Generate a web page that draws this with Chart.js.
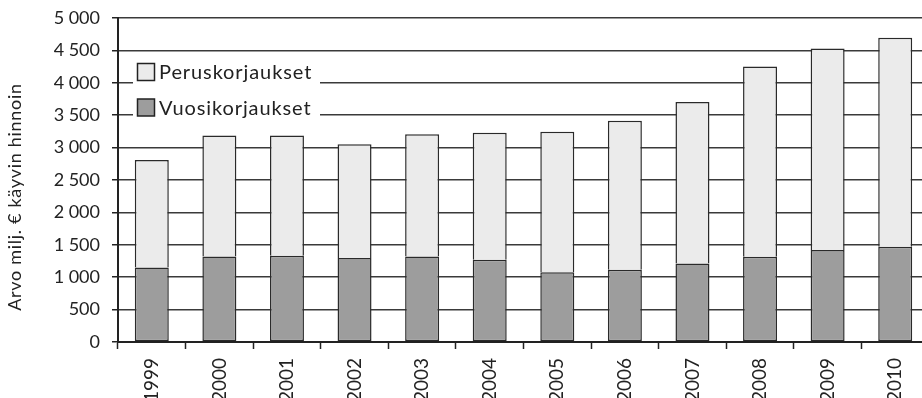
<!DOCTYPE html>
<html lang="fi">
<head>
<meta charset="utf-8">
<title>Korjausrakentaminen 1999–2010</title>
<script src="https://cdn.jsdelivr.net/npm/chart.js@4/dist/chart.umd.min.js"></script>
<style>
  html, body { margin: 0; padding: 0; background: #ffffff; overflow: hidden; }
  #wrap { width: 922px; height: 398px; position: relative; overflow: hidden; }
  #chart { position: absolute; left: 0; top: 0; }
</style>
</head>
<body>
<div id="wrap"><canvas id="chart" width="929" height="398"></canvas></div>
<script>
// Vuodet
const years = ['1999', '2000', '2001', '2002', '2003', '2004', '2005', '2006', '2007', '2008', '2009', '2010'];
// Vuosikorjaukset, milj. €
const vuosikorjaukset = [1150, 1320, 1330, 1295, 1320, 1270, 1075, 1115, 1210, 1315, 1420, 1470];
// Peruskorjaukset, milj. € (pinottu vuosikorjausten päälle)
const peruskorjaukset = [1660, 1865, 1855, 1755, 1885, 1960, 2170, 2300, 2495, 2935, 3110, 3225];
// Pystyakselin asteikko
const yMin = 0;
const yMax = 5000;
const yStep = 500;
const yTitle = 'Arvo milj. € käyvin hinnoin';

const FONT = 'Lato, "Open Sans", sans-serif';
const INK = '#222222';

function thousands(v) {
  return String(v).replace(/\B(?=(\d{3})+(?!\d))/g, ' ');
}

// Selite piirretään kuva-alueen sisään, valkoisen taustan päälle
const insideLegend = {
  id: 'insideLegend',
  afterDraw(chart) {
    const ctx = chart.ctx;
    const area = chart.chartArea;
    const x0 = area.left + 15;
    const items = [chart.data.datasets[1], chart.data.datasets[0]];
    ctx.save();
    ctx.fillStyle = '#ffffff';
    ctx.fillRect(x0, 55, 187, 68);
    items.forEach((ds, i) => {
      const cy = 72 + i * 35.5;
      ctx.fillStyle = ds.backgroundColor;
      ctx.fillRect(x0 + 4.5, cy - 8.5, 17, 17);
      ctx.lineWidth = 1.5;
      ctx.strokeStyle = INK;
      ctx.strokeRect(x0 + 4.5, cy - 8.5, 17, 17);
      ctx.fillStyle = INK;
      ctx.font = '20px ' + FONT;
      ctx.letterSpacing = '0.9px';
      ctx.textBaseline = 'middle';
      ctx.textAlign = 'left';
      ctx.fillText(ds.label, x0 + 26, cy + 1);
    });
    ctx.restore();
  }
};

// Pystyakselin otsikko
const axisTitle = {
  id: 'axisTitle',
  afterDraw(chart) {
    const ctx = chart.ctx;
    ctx.save();
    ctx.translate(15, 197);
    ctx.rotate(-Math.PI / 2);
    ctx.fillStyle = INK;
    ctx.font = '18px ' + FONT;
    ctx.letterSpacing = '0.7px';
    ctx.textAlign = 'center';
    ctx.textBaseline = 'middle';
    ctx.fillText(yTitle, 0, 0);
    ctx.restore();
  }
};

new Chart(document.getElementById('chart'), {
  type: 'bar',
  data: {
    labels: years,
    datasets: [
      {
        label: 'Vuosikorjaukset',
        data: vuosikorjaukset,
        backgroundColor: '#9d9d9d',
        borderColor: '#2a2a2a',
        borderWidth: 1.5,
        borderSkipped: false,
        categoryPercentage: 1,
        barPercentage: 0.503
      },
      {
        label: 'Peruskorjaukset',
        data: peruskorjaukset,
        backgroundColor: '#ebebeb',
        borderColor: '#2a2a2a',
        borderWidth: 1.5,
        borderSkipped: 'start',
        categoryPercentage: 1,
        barPercentage: 0.503
      }
    ]
  },
  options: {
    responsive: false,
    animation: false,
    devicePixelRatio: 1,
    layout: { padding: { top: 18, right: 0, bottom: 0, left: 0 } },
    plugins: {
      legend: { display: false },
      tooltip: { enabled: false },
      title: { display: false }
    },
    scales: {
      x: {
        stacked: true,
        offset: true,
        grid: {
          offset: true,
          drawOnChartArea: false,
          drawTicks: true,
          tickLength: 7,
          tickWidth: 1.5,
          tickColor: INK
        },
        border: { color: INK, width: 2 },
        ticks: {
          color: INK,
          font: { family: FONT, size: 19 },
          minRotation: 90,
          maxRotation: 90,
          autoSkip: false,
          padding: 9
        },
        afterFit(scale) {
          scale.height = 56;
          scale.paddingLeft = 0;
          scale.paddingRight = 0;
        }
      },
      y: {
        stacked: true,
        min: yMin,
        max: yMax,
        grid: {
          color: '#3a3a3a',
          lineWidth: 1.5,
          drawTicks: true,
          tickLength: 6,
          tickColor: INK
        },
        border: { color: INK, width: 2 },
        ticks: {
          stepSize: yStep,
          color: INK,
          font: { family: FONT, size: 18 },
          padding: 12,
          callback: (v) => thousands(v)
        },
        afterFit(scale) {
          scale.width = 118;
          scale.paddingTop = 0;
          scale.paddingBottom = 0;
        }
      }
    }
  },
  plugins: [insideLegend, axisTitle]
});
</script>
</body>
</html>
